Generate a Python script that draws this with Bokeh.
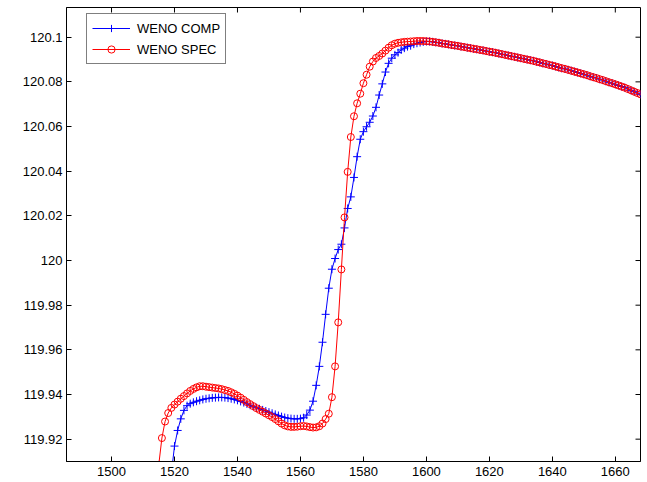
from bokeh.plotting import figure
from bokeh.models import Range1d, FixedTicker, Legend, LegendItem
from bokeh.embed import file_html
from bokeh.resources import INLINE

# ---------------- data ----------------
x_ticks = [1500, 1520, 1540, 1560, 1580, 1600, 1620, 1640, 1660]
y_ticks = [119.92, 119.94, 119.96, 119.98, 120.0, 120.02, 120.04, 120.06, 120.08, 120.1]
y_tick_labels = ["119.92", "119.94", "119.96", "119.98", "120", "120.02",
                 "120.04", "120.06", "120.08", "120.1"]

spec_x = list(range(1515, 1669))
spec_y = [
    119.9085, 119.9205, 119.9279, 119.9317, 119.9340,
    119.9355, 119.9368, 119.9381, 119.9393, 119.9405, 119.9416, 119.9425, 119.9432, 119.9437, 119.9437,
    119.9435, 119.9433, 119.9431, 119.9429, 119.9427, 119.9424, 119.9420, 119.9416, 119.9410, 119.9403,
    119.9395, 119.9386, 119.9376, 119.9366, 119.9357, 119.9348, 119.9339, 119.9331, 119.9323, 119.9315,
    119.9307, 119.9299, 119.9290, 119.9280, 119.9270, 119.9262, 119.9257, 119.9255, 119.9255, 119.9256,
    119.9258, 119.9259, 119.9257, 119.9254, 119.9252, 119.9253, 119.9258, 119.9270, 119.9290, 119.9314,
    119.9388, 119.9526, 119.9723, 119.9960, 120.0193, 120.0397, 120.0553, 120.0646, 120.0704, 120.0747,
    120.0794, 120.0832, 120.0868, 120.0891, 120.0907, 120.0916, 120.0927, 120.0940, 120.0953, 120.0964,
    120.0971, 120.0975, 120.0977, 120.0979, 120.0980, 120.0981, 120.0982, 120.0983, 120.0983, 120.0983,
    120.0982, 120.0981, 120.0979, 120.0977, 120.0975, 120.0972, 120.0970, 120.0968, 120.0965, 120.0963,
    120.0961, 120.0958, 120.0956, 120.0953, 120.0951, 120.0948, 120.0946, 120.0943, 120.0941, 120.0938,
    120.0935, 120.0933, 120.0930, 120.0927, 120.0924, 120.0921, 120.0918, 120.0915, 120.0912, 120.0909,
    120.0906, 120.0903, 120.0900, 120.0897, 120.0894, 120.0890, 120.0887, 120.0883, 120.0880, 120.0876,
    120.0873, 120.0869, 120.0865, 120.0861, 120.0858, 120.0854, 120.0850, 120.0846, 120.0842, 120.0838,
    120.0834, 120.0830, 120.0825, 120.0821, 120.0817, 120.0812, 120.0808, 120.0803, 120.0798, 120.0794,
    120.0789, 120.0784, 120.0779, 120.0774, 120.0768, 120.0762, 120.0756, 120.0750, 120.0744,
]

comp_x = list(range(1519, 1669))
comp_y = [
    119.9045,
    119.9169, 119.9239, 119.9291, 119.9329, 119.9350, 119.9359, 119.9365, 119.9370, 119.9374, 119.9378,
    119.9381, 119.9383, 119.9385, 119.9386, 119.9387, 119.9387, 119.9386, 119.9384, 119.9381, 119.9378,
    119.9374, 119.9369, 119.9364, 119.9358, 119.9352, 119.9347, 119.9341, 119.9336, 119.9331, 119.9326,
    119.9321, 119.9316, 119.9311, 119.9306, 119.9301, 119.9297, 119.9294, 119.9292, 119.9291, 119.9291,
    119.9292, 119.9296, 119.9308, 119.9330, 119.9370, 119.9441, 119.9526, 119.9634, 119.9759, 119.9876,
    119.9961, 120.0009, 120.0049, 120.0073, 120.0146, 120.0233, 120.0285, 120.0372, 120.0465, 120.0543,
    120.0577, 120.0599, 120.0619, 120.0647, 120.0686, 120.0741, 120.0791, 120.0844, 120.0883, 120.0906,
    120.0921, 120.0931, 120.0943, 120.0951, 120.0958, 120.0962, 120.0969, 120.0973, 120.0976, 120.0979,
    120.0981, 120.0981, 120.0979, 120.0977, 120.0975, 120.0972, 120.0970, 120.0968, 120.0965, 120.0963,
    120.0961, 120.0958, 120.0956, 120.0953, 120.0951, 120.0948, 120.0946, 120.0943, 120.0941, 120.0938,
    120.0935, 120.0933, 120.0930, 120.0927, 120.0924, 120.0921, 120.0918, 120.0915, 120.0912, 120.0909,
    120.0906, 120.0903, 120.0900, 120.0897, 120.0894, 120.0890, 120.0887, 120.0883, 120.0880, 120.0876,
    120.0873, 120.0869, 120.0865, 120.0861, 120.0858, 120.0854, 120.0850, 120.0846, 120.0842, 120.0838,
    120.0834, 120.0830, 120.0825, 120.0821, 120.0817, 120.0812, 120.0808, 120.0803, 120.0798, 120.0794,
    120.0789, 120.0784, 120.0779, 120.0774, 120.0768, 120.0762, 120.0756, 120.0750, 120.0744,
]

series_labels = ["WENO COMP", "WENO SPEC"]

# ---------------- figure ----------------
FONT = "Liberation Sans"
FS = "13px"
X0, X1 = 1485.7, 1668.0
Y0, Y1 = 119.910, 120.1133

p = figure(width=647, height=482, output_backend="svg", toolbar_location=None,
           x_range=Range1d(X0, X1), y_range=Range1d(Y0, Y1),
           min_border_left=66, min_border_right=7, min_border_top=7, min_border_bottom=21)
p.background_fill_color = "white"
p.border_fill_color = "white"
p.outline_line_color = "black"
p.outline_line_width = 1
p.xgrid.visible = False
p.ygrid.visible = False

xa = p.xaxis[0]
xa.ticker = FixedTicker(ticks=x_ticks)
ya = p.yaxis[0]
ya.ticker = FixedTicker(ticks=y_ticks)
ya.major_label_overrides = {v: s for v, s in zip(y_ticks, y_tick_labels)}
for ax in (xa, ya):
    ax.major_tick_in = 5
    ax.major_tick_out = 0
    ax.minor_tick_line_color = None
    ax.axis_line_color = "black"
    ax.major_tick_line_color = "black"
    ax.major_label_text_font = FONT
    ax.major_label_text_font_size = FS
    ax.major_label_text_color = "black"
xa.major_label_standoff = 5
ya.major_label_standoff = 4

# inward ticks on the top and right edges of the box (half of each dash is clipped by the frame)
p.scatter(x=x_ticks, y=[Y1] * len(x_ticks), marker="dash", size=10, angle=90, angle_units="deg",
          line_color="black", line_width=1)
p.scatter(x=[X1] * len(y_ticks), y=y_ticks, marker="dash", size=10,
          line_color="black", line_width=1)

comp_line = p.line(comp_x, comp_y, line_color="#0000ff", line_width=1)
comp_pts = p.scatter(comp_x, comp_y, marker="cross", size=8, line_color="#0000ff", line_width=1)
spec_line = p.line(spec_x, spec_y, line_color="#ff0000", line_width=1)
spec_pts = p.scatter(spec_x, spec_y, marker="circle", size=7, line_color="#ff0000",
                     fill_color=None, line_width=1)

legend = Legend(items=[LegendItem(label=series_labels[0], renderers=[comp_line, comp_pts]),
                       LegendItem(label=series_labels[1], renderers=[spec_line, spec_pts])],
                location=(20, 397), orientation="vertical",
                label_text_font=FONT, label_text_font_size=FS, label_text_color="black",
                glyph_width=38, glyph_height=18, label_height=18, label_standoff=7,
                padding=5, spacing=3, margin=0,
                border_line_color="black", border_line_width=1,
                background_fill_color="white", background_fill_alpha=1.0)
p.add_layout(legend)

open("out.html", "w").write(file_html(p, INLINE))
